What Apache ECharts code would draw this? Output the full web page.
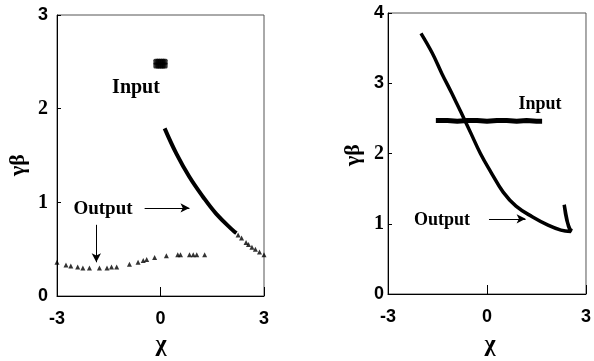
<!DOCTYPE html>
<html><head><meta charset="utf-8">
<script src="https://cdn.jsdelivr.net/npm/echarts@6/dist/echarts.min.js"></script>
<style>html,body{margin:0;padding:0;background:#fff}#c{width:594px;height:361px}</style>
</head><body><div id="c"></div>
<script>
// Left panel
const leftInput = [[-0.12,2.46],[-0.12,2.5],[-0.06,2.46],[-0.06,2.5],[0,2.46],[0,2.5],[0.06,2.46],[0.06,2.5],[0.12,2.46],[0.12,2.5]];
const leftOutputCurve = [[0.12,1.79],[0.46,1.52],[0.84,1.27],[1.23,1.06],[1.61,0.88],[2.10,0.70],[2.2,0.67]];
const leftOutputTail = [[2.25,0.65],[2.35,0.62],[2.48,0.57],[2.55,0.55],[2.65,0.52],[2.75,0.50],[2.87,0.47],[3.0,0.44]];
const leftOutputLow = [[-3,0.36],[-2.74,0.33],[-2.6,0.32],[-2.4,0.31],[-2.25,0.30],[-2.06,0.30],[-1.77,0.30],[-1.55,0.30],[-1.42,0.31],[-1.27,0.31],[-0.9,0.34],[-0.65,0.36],[-0.5,0.38],[-0.4,0.39],[-0.17,0.41],[0.17,0.43],[0.5,0.44],[0.58,0.44],[0.84,0.44],[0.95,0.44],[1.05,0.44],[1.28,0.44]];
// Right panel
const rightInput = [[-1.55,2.47],[-1.2,2.47],[-0.9,2.46],[-0.6,2.47],[-0.3,2.47],[0,2.46],[0.3,2.47],[0.6,2.47],[0.9,2.46],[1.2,2.47],[1.5,2.46],[1.67,2.46]];
const rightOutput = [[-2.00,3.71],[-1.66,3.43],[-1.37,3.14],[-1.07,2.86],[-0.78,2.58],[-0.49,2.29],[-0.20,2.00],[0.10,1.75],[0.49,1.45],[0.88,1.25],[1.37,1.10],[1.85,0.98],[2.24,0.91],[2.54,0.89],[2.42,1.05],[2.34,1.27],[2.44,1.02],[2.5,0.93],[2.58,0.90]];
const xTicks = ['-3','0','3'];

const serif = 'Liberation Serif';
const sans = 'Liberation Sans';
const chart = echarts.init(document.getElementById('c'));
const rich = {s:{fontFamily:sans,fontSize:18,fontWeight:'bold',color:'#000'},r:{fontFamily:serif,fontSize:20,fontWeight:'bold',color:'#000'}};
function lbl(v){const t=v<0?'-'+Math.abs(v):String(v);return (t==='1'||t==='2')?'{r|'+t+'}':'{s|'+t+'}';}
function xAx(gi){return {gridIndex:gi,type:'value',min:-3,max:3,interval:3,
  axisLine:{onZero:false,lineStyle:{color:'#000',width:1}},axisTick:{inside:true,length:9,lineStyle:{color:'#000'}},
  splitLine:{show:false},axisLabel:{margin:14,formatter:lbl,rich:rich}};}
function yAx(gi,max,margin){return {gridIndex:gi,type:'value',min:0,max:max,interval:1,
  axisLine:{onZero:false,lineStyle:{color:'#000',width:1}},axisTick:{inside:true,length:4,lineStyle:{color:'#000'}},
  splitLine:{show:false},axisLabel:{margin:margin,formatter:lbl,rich:rich}};}
const arrowLine = {symbol:['none','arrow'],symbolSize:[7,9],silent:true,label:{show:false},lineStyle:{color:'#000',width:1,type:'solid'}};
const txt = (x,y,s,fs,extra)=>Object.assign({type:'text',x:x,y:y,style:{text:s,font:'bold '+fs+'px "Liberation Serif"',fill:'#000',textAlign:'center',textVerticalAlign:'middle'}},extra||{});
chart.setOption({
  animation:false,
  grid:[{left:57,right:330,top:15,bottom:65,show:true,borderColor:'#555',borderWidth:1},
        {left:388,right:1,top:13,bottom:67,show:true,borderColor:'#555',borderWidth:1}],
  xAxis:[xAx(0),xAx(1)],
  yAxis:[yAx(0,3,9),yAx(1,4,4)],
  series:[
    {type:'scatter',xAxisIndex:0,yAxisIndex:0,data:leftInput,symbol:'roundRect',symbolSize:[6,6],itemStyle:{color:'#000'}},
    {type:'line',xAxisIndex:0,yAxisIndex:0,data:leftOutputCurve,symbol:'none',smooth:0.4,lineStyle:{color:'#000',width:4},
      markLine:Object.assign({data:[[{coord:[-0.46,0.94]},{coord:[0.84,0.94]}],[{coord:[-1.86,0.76]},{coord:[-1.86,0.36]}]]},arrowLine)},
    {type:'scatter',xAxisIndex:0,yAxisIndex:0,data:leftOutputTail,symbol:'triangle',symbolSize:5,itemStyle:{color:'#000'}},
    {type:'scatter',xAxisIndex:0,yAxisIndex:0,data:leftOutputLow,symbol:'triangle',symbolSize:5,itemStyle:{color:'#000'}},
    {type:'line',xAxisIndex:1,yAxisIndex:1,data:rightInput,symbol:'none',lineStyle:{color:'#000',width:5}},
    {type:'line',xAxisIndex:1,yAxisIndex:1,data:rightOutput,symbol:'none',smooth:0.4,lineStyle:{color:'#000',width:3.5},
      markLine:Object.assign({data:[[{coord:[0.06,1.07]},{coord:[1.17,1.07]}]]},arrowLine)}
  ],
  graphic:[
    txt(136,88,'Input',20),
    txt(103,209,'Output',19),
    txt(540,104,'Input',18),
    txt(442,220,'Output',18),
    txt(161,345,'χ',24),
    txt(490,345,'χ',24),
    txt(18,165,'γβ',22,{rotation:Math.PI/2}),
    txt(353,155,'γβ',22,{rotation:Math.PI/2})
  ]
});
</script></body></html>
